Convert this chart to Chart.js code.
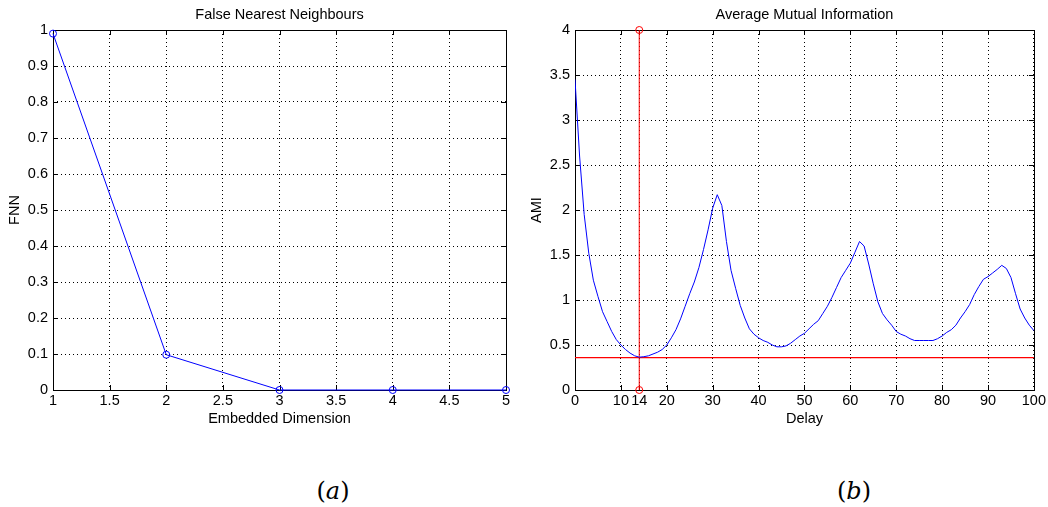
<!DOCTYPE html>
<html>
<head>
<meta charset="utf-8">
<script src="https://cdn.jsdelivr.net/npm/chart.js@4.4.0/dist/chart.umd.min.js"></script>
<style>
  body { margin: 0; background: #fff; width: 1048px; height: 507px; overflow: hidden; position: relative; }
  canvas { position: absolute; top: 0; }
  #fnnChart { left: 0; }
  #amiChart { left: 528px; }
  .cap { position: absolute; top: 476px; width: 60px; text-align: center; font: 24px "DejaVu Serif", serif; line-height: 30px; color: #000; }
</style>
</head>
<body>
<canvas id="fnnChart" width="530" height="440"></canvas>
<canvas id="amiChart" width="520" height="440"></canvas>
<div class="cap" style="left:303px">(<i>a</i>)</div>
<div class="cap" style="left:824px">(<i>b</i>)</div>
<script>
// False nearest neighbours
const fnnDims = [1, 2, 3, 4, 5];
const fnnValues = [0.99, 0.098, 0, 0, 0];
const fnnXTicks = [1, 1.5, 2, 2.5, 3, 3.5, 4, 4.5, 5];
const fnnYTicks = [0, 0.1, 0.2, 0.3, 0.4, 0.5, 0.6, 0.7, 0.8, 0.9, 1];

// Average mutual information, one value per delay 0..100
const amiValues = [
  3.45, 2.60, 1.95, 1.52, 1.22, 1.04, 0.87, 0.76, 0.65, 0.56,
  0.50, 0.45, 0.41, 0.38, 0.365, 0.37, 0.38, 0.40, 0.42, 0.45,
  0.50, 0.58, 0.67, 0.79, 0.93, 1.07, 1.20, 1.36, 1.56, 1.78,
  2.02, 2.17, 2.05, 1.65, 1.33, 1.13, 0.94, 0.80, 0.68, 0.62,
  0.58, 0.55, 0.53, 0.50, 0.48, 0.48, 0.49, 0.52, 0.56, 0.60,
  0.63, 0.68, 0.73, 0.77, 0.85, 0.93, 1.03, 1.14, 1.25, 1.33,
  1.41, 1.53, 1.65, 1.60, 1.40, 1.18, 0.98, 0.85, 0.78, 0.72,
  0.65, 0.62, 0.60, 0.57, 0.55, 0.55, 0.55, 0.55, 0.55, 0.57,
  0.60, 0.64, 0.67, 0.72, 0.80, 0.87, 0.95, 1.06, 1.15, 1.23,
  1.26, 1.30, 1.34, 1.385, 1.35, 1.25, 1.07, 0.90, 0.80, 0.72,
  0.66
];
const amiXTicks = [0, 10, 14, 20, 30, 40, 50, 60, 70, 80, 90, 100];
const amiYTicks = [0, 0.5, 1, 1.5, 2, 2.5, 3, 3.5, 4];
const amiMinDelay = 14;
const amiThreshold = 0.36;

const font = { family: '"Liberation Sans", Arial, sans-serif', size: 14.5 };

// matlab style box with inward tick marks
const matlabBox = {
  id: 'matlabBox',
  beforeDatasetsDraw(chart) {
    const { ctx, chartArea: a, scales } = chart;
    ctx.save();
    ctx.strokeStyle = '#000';
    ctx.lineWidth = 1;
    ctx.setLineDash([]);
    ctx.beginPath();
    scales.x.ticks.forEach(t => {
      const px = Math.round(scales.x.getPixelForValue(t.value)) + 0.5;
      ctx.moveTo(px, a.bottom); ctx.lineTo(px, a.bottom - 5);
      ctx.moveTo(px, a.top); ctx.lineTo(px, a.top + 5);
    });
    scales.y.ticks.forEach(t => {
      const py = Math.round(scales.y.getPixelForValue(t.value)) + 0.5;
      ctx.moveTo(a.left, py); ctx.lineTo(a.left + 5, py);
      ctx.moveTo(a.right, py); ctx.lineTo(a.right - 5, py);
    });
    ctx.stroke();
    ctx.strokeRect(Math.round(a.left) + 0.5, Math.round(a.top) + 0.5,
      Math.round(a.right - a.left), Math.round(a.bottom - a.top));
    ctx.restore();
  }
};

function makeAxis(tickValues, min, max, title, horizontal) {
  return {
    type: 'linear',
    min: min,
    max: max,
    afterBuildTicks: s => { s.ticks = tickValues.map(v => ({ value: v })); },
    afterFit: s => {
      if (horizontal) s.height = 40;
    },
    grid: { color: '#000', lineWidth: 1, drawTicks: false },
    border: { display: false, dash: [1, 3] },
    ticks: {
      color: '#000', font: font, padding: horizontal ? 2 : 5,
      autoSkip: false, maxRotation: 0, callback: v => String(v)
    },
    title: {
      display: true, text: title, color: '#000', font: font,
      padding: horizontal ? { top: 0, bottom: 2.3 } : { top: 0, bottom: 0 }
    }
  };
}

function titleOpts(text) {
  return {
    display: true, text: text, color: '#000', fullSize: false,
    font: { family: font.family, size: 14.5, weight: 'normal' },
    padding: { top: 6, bottom: 6.6 }
  };
}

const fnnY = makeAxis(fnnYTicks, 0, 1, 'FNN', false);
fnnY.afterFit = s => { s.width = 53; };
fnnY.title.padding = { top: 6.3, bottom: 0 };

new Chart(document.getElementById('fnnChart'), {
  type: 'line',
  data: {
    datasets: [{
      data: fnnDims.map((d, i) => ({ x: d, y: fnnValues[i] })),
      borderColor: '#0000ff',
      borderWidth: 1,
      pointRadius: 3.5,
      pointBorderColor: '#0000ff',
      pointBackgroundColor: 'rgba(0,0,0,0)',
      pointBorderWidth: 1,
      tension: 0,
      clip: false
    }]
  },
  options: {
    responsive: false,
    animation: false,
    layout: { padding: { top: 0, left: 0, right: 24, bottom: 10 } },
    plugins: {
      legend: { display: false },
      tooltip: { enabled: false },
      title: titleOpts('False Nearest Neighbours')
    },
    scales: {
      x: makeAxis(fnnXTicks, 1, 5, 'Embedded Dimension', true),
      y: fnnY
    }
  },
  plugins: [matlabBox]
});

const amiY = makeAxis(amiYTicks, 0, 4, 'AMI', false);
amiY.afterFit = s => { s.width = 47; };
amiY.title.padding = { top: 0, bottom: 0 };

new Chart(document.getElementById('amiChart'), {
  type: 'line',
  data: {
    datasets: [
      {
        data: amiValues.map((v, i) => ({ x: i, y: v })),
        borderColor: '#0000ff',
        borderWidth: 1,
        pointRadius: 0,
        tension: 0
      },
      {
        data: [{ x: amiMinDelay, y: 0 }, { x: amiMinDelay, y: 4 }],
        borderColor: '#ff0000',
        borderWidth: 1,
        pointRadius: 3.5,
        pointBorderColor: '#ff0000',
        pointBackgroundColor: 'rgba(0,0,0,0)',
        pointBorderWidth: 1,
        tension: 0,
        clip: false
      },
      {
        data: [{ x: 0, y: amiThreshold }, { x: 100, y: amiThreshold }],
        borderColor: '#ff0000',
        borderWidth: 1.2,
        pointRadius: 0,
        tension: 0
      }
    ]
  },
  options: {
    responsive: false,
    animation: false,
    layout: { padding: { top: 0, left: 0, right: 12, bottom: 10 } },
    plugins: {
      legend: { display: false },
      tooltip: { enabled: false },
      title: titleOpts('Average Mutual Information')
    },
    scales: {
      x: makeAxis(amiXTicks, 0, 100, 'Delay', true),
      y: amiY
    }
  },
  plugins: [matlabBox]
});
</script>
</body>
</html>
